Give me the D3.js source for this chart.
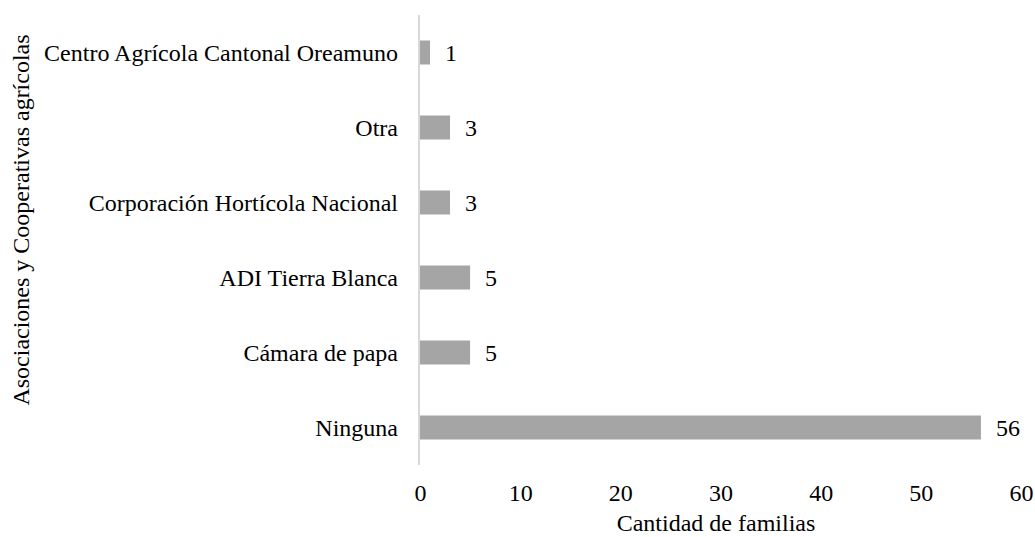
<!DOCTYPE html>
<html>
<head>
<meta charset="utf-8">
<title>Asociaciones y Cooperativas agrícolas</title>
<style type="text/css">
	body { margin: 0; background: #fff; }
	.bar { fill: #A5A5A5; }
</style>
<script src="https://cdn.jsdelivr.net/npm/d3@7/dist/d3.min.js"></script>
</head>
<body>
<div id="chart"></div>
<script type="text/javascript">
// data, top to bottom
var categories = ['Centro Agrícola Cantonal Oreamuno', 'Otra', 'Corporación Hortícola Nacional', 'ADI Tierra Blanca', 'Cámara de papa', 'Ninguna'];
var values = [1, 3, 3, 5, 5, 56];
var xTicks = [0, 10, 20, 30, 40, 50, 60];

var width = 1035, height = 537;
var fontSize = 24;
var serif = '"Liberation Serif"';

var svg = d3.select('#chart').append('svg')
		.attr('width', width)
		.attr('height', height)
		.attr('font-family', serif)
		.attr('font-size', fontSize);

var x = d3.scaleLinear().domain([0, 60]).range([420, 1021]);
var y = d3.scaleBand().domain(categories).range([15, 465])
		.paddingInner(0.68).paddingOuter(0.34);

var rows = categories.map(function(c, i){ return {cat: c, val: values[i]}; });

// bars
svg.selectAll('.bar')
		.data(rows)
	.enter().append('rect')
		.attr('class', 'bar')
		.attr('x', x(0))
		.attr('y', function(d){ return y(d.cat); })
		.attr('width', function(d){ return x(d.val) - x(0); })
		.attr('height', y.bandwidth());

// vertical axis line (no ticks)
svg.append('line')
		.attr('x1', x(0) - 1).attr('x2', x(0) - 1)
		.attr('y1', 15).attr('y2', 465)
		.attr('stroke', '#D9D9D9')
		.attr('stroke-width', 2);

// category labels
svg.selectAll('.cat')
		.data(rows)
	.enter().append('text')
		.attr('class', 'cat')
		.attr('x', x(0) - 22)
		.attr('y', function(d){ return y(d.cat) + y.bandwidth() / 2; })
		.attr('dy', '0.35em')
		.attr('text-anchor', 'end')
		.text(function(d){ return d.cat; });

// value labels
svg.selectAll('.val')
		.data(rows)
	.enter().append('text')
		.attr('class', 'val')
		.attr('x', function(d){ return x(d.val) + 15; })
		.attr('y', function(d){ return y(d.cat) + y.bandwidth() / 2; })
		.attr('dy', '0.35em')
		.text(function(d){ return d.val; });

// x axis: labels only
var xAxis = d3.axisBottom(x).tickValues(xTicks).tickSize(0).tickPadding(0);
var gx = svg.append('g')
		.attr('transform', 'translate(0,484)')
		.call(xAxis)
		.attr('font-family', serif)
		.attr('font-size', fontSize);
gx.select('.domain').remove();
gx.selectAll('text')
		.attr('dy', '0.71em')
		.attr('fill', '#000');

// axis titles
svg.append('text')
		.attr('x', 716)
		.attr('y', 531)
		.attr('text-anchor', 'middle')
		.text('Cantidad de familias');

svg.append('text')
		.attr('transform', 'translate(29,220) rotate(-90)')
		.attr('text-anchor', 'middle')
		.text('Asociaciones y Cooperativas agrícolas');
</script>
</body>
</html>
